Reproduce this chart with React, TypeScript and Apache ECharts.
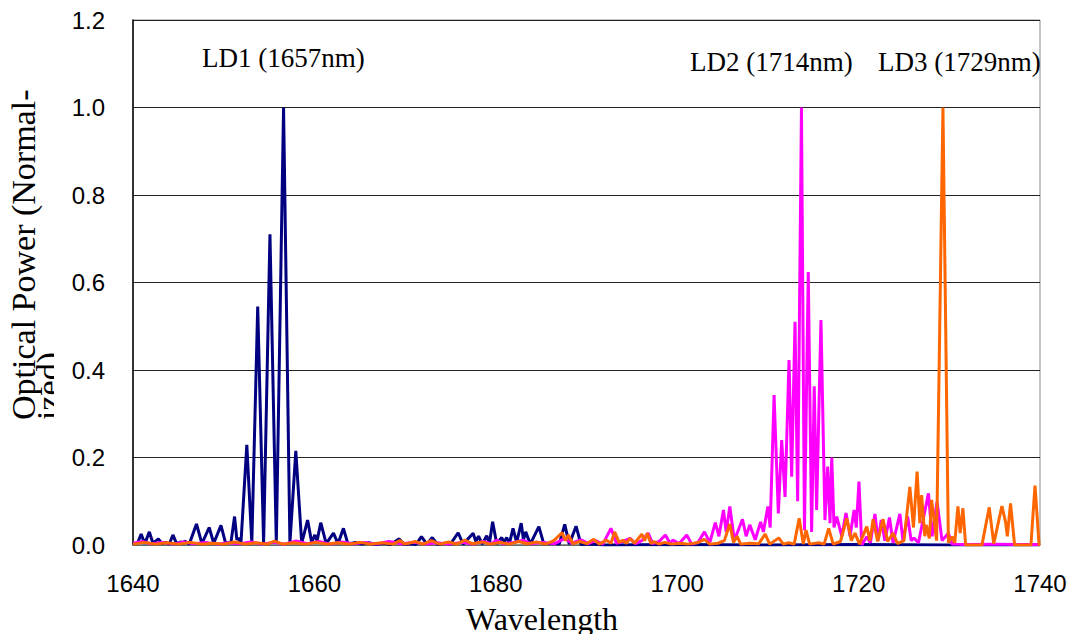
import React, { useEffect, useRef } from "react";
import * as echarts from "echarts";

const xTicks = [1640, 1660, 1680, 1700, 1720, 1740];
const yTicks = [0, 0.2, 0.4, 0.6, 0.8, 1.0, 1.2];

const peakLabels = ["LD1 (1657nm)", "LD2 (1714nm)", "LD3 (1729nm)"];
const seriesNames = ["LD1", "LD2", "LD3"];

const ld1: [number, number][] = [
  [1640.0, 0.003], [1640.5, 0.004], [1640.9, 0.025], [1641.3, 0.003], [1641.8, 0.03],
  [1642.2, 0.004], [1642.8, 0.014], [1643.2, 0.003], [1643.6, 0.006], [1644.0, 0.002],
  [1644.4, 0.023], [1644.8, 0.003], [1645.3, 0.007], [1645.5, 0.003], [1645.7, 0.009],
  [1646.2, 0.002], [1647.0, 0.048], [1647.6, 0.003], [1648.4, 0.04], [1648.9, 0.004],
  [1649.7, 0.045], [1650.2, 0.005], [1650.8, 0.006], [1651.2, 0.065], [1651.45, 0.012],
  [1651.6, 0.016], [1651.9, 0.004], [1652.55, 0.229], [1653.1, 0.004], [1653.75, 0.545],
  [1654.4, 0.004], [1655.1, 0.71], [1655.8, 0.004], [1656.6, 1.0], [1657.3, 0.004],
  [1657.95, 0.215], [1658.6, 0.004], [1659.25, 0.057], [1659.7, 0.006], [1660.05, 0.023],
  [1660.3, 0.01], [1660.7, 0.051], [1661.3, 0.003], [1662.1, 0.027], [1662.6, 0.003],
  [1663.2, 0.038], [1663.7, 0.002], [1664.5, 0.006], [1665.2, 0.002], [1666.0, 0.005],
  [1666.8, 0.001], [1667.6, 0.004], [1668.4, 0.001], [1669.35, 0.014], [1669.9, 0.001],
  [1670.6, 0.003], [1671.2, 0.001], [1671.8, 0.019], [1672.4, 0.002], [1673.0, 0.017],
  [1673.6, 0.001], [1674.3, 0.004], [1675.0, 0.002], [1675.85, 0.028], [1676.4, 0.002],
  [1677.5, 0.027], [1677.8, 0.008], [1678.1, 0.02], [1678.5, 0.002], [1679.0, 0.021],
  [1679.3, 0.004], [1679.65, 0.053], [1680.1, 0.003], [1680.65, 0.017], [1680.9, 0.006],
  [1681.2, 0.017], [1681.5, 0.003], [1681.9, 0.038], [1682.3, 0.006], [1682.8, 0.05],
  [1683.05, 0.012], [1683.3, 0.03], [1683.8, 0.002], [1684.75, 0.042], [1685.3, 0.002],
  [1686.2, 0.004], [1687.0, 0.002], [1687.6, 0.047], [1688.1, 0.002], [1688.85, 0.043],
  [1689.4, 0.001], [1690.5, 0.002], [1692.0, 0.0], [1700.0, 0.001], [1710.0, 0.0],
  [1720.0, 0.001], [1730.0, 0.0], [1740.0, 0.0],
];

const ld2: [number, number][] = [
  [1640.0, 0.004], [1641.0, 0.008], [1642.0, 0.003], [1643.2, 0.006], [1644.5, 0.002],
  [1645.6, 0.007], [1646.8, 0.003], [1648.0, 0.006], [1649.3, 0.002], [1650.5, 0.005],
  [1651.8, 0.003], [1653.0, 0.007], [1654.2, 0.002], [1655.5, 0.006], [1656.7, 0.002],
  [1658.0, 0.009], [1659.2, 0.003], [1660.5, 0.008], [1661.7, 0.002], [1663.0, 0.007],
  [1664.3, 0.003], [1665.6, 0.006], [1666.8, 0.002], [1668.2, 0.008], [1669.6, 0.003],
  [1671.0, 0.006], [1672.3, 0.002], [1673.5, 0.005], [1674.8, 0.002], [1676.3, 0.006],
  [1677.5, 0.002], [1678.6, 0.008], [1679.5, 0.003], [1680.1, 0.011], [1680.8, 0.003],
  [1682.0, 0.006], [1683.0, 0.011], [1683.8, 0.003], [1685.2, 0.006], [1686.5, 0.003],
  [1687.6, 0.015], [1688.4, 0.004], [1689.4, 0.012], [1690.2, 0.003], [1691.0, 0.01],
  [1691.8, 0.002], [1692.7, 0.038], [1693.3, 0.004], [1694.0, 0.008], [1694.8, 0.015],
  [1695.4, 0.003], [1696.1, 0.01], [1696.8, 0.027], [1697.3, 0.003], [1698.0, 0.008],
  [1698.7, 0.023], [1699.2, 0.004], [1699.5, 0.011], [1700.2, 0.003], [1701.05, 0.023],
  [1701.6, 0.002], [1702.3, 0.006], [1703.0, 0.03], [1703.6, 0.006], [1704.2, 0.051],
  [1704.6, 0.02], [1705.1, 0.08], [1705.4, 0.03], [1705.8, 0.088], [1706.3, 0.011],
  [1707.2, 0.059], [1707.6, 0.02], [1708.0, 0.046], [1708.6, 0.012], [1709.2, 0.053],
  [1709.5, 0.03], [1710.0, 0.088], [1710.25, 0.04], [1710.68, 0.343], [1711.15, 0.072],
  [1711.52, 0.24], [1711.89, 0.11], [1712.33, 0.423], [1712.62, 0.156], [1712.99, 0.51],
  [1713.28, 0.1], [1713.7, 1.0], [1714.03, 0.034], [1714.45, 0.624], [1714.82, 0.03],
  [1715.11, 0.363], [1715.37, 0.08], [1715.85, 0.514], [1716.29, 0.057], [1716.59, 0.179],
  [1716.85, 0.05], [1717.04, 0.2], [1717.29, 0.04], [1717.59, 0.065], [1718.14, 0.02],
  [1718.61, 0.073], [1719.06, 0.02], [1719.5, 0.08], [1719.75, 0.04], [1720.04, 0.145],
  [1720.35, 0.0], [1720.9, 0.019], [1721.3, 0.005], [1721.8, 0.071], [1722.15, 0.01],
  [1722.5, 0.057], [1722.9, 0.01], [1723.4, 0.063], [1723.8, 0.005], [1724.55, 0.071],
  [1724.9, 0.008], [1725.4, 0.065], [1725.8, 0.01], [1726.1, 0.016], [1726.6, 0.005],
  [1727.7, 0.118], [1728.1, 0.02], [1728.65, 0.099], [1729.2, 0.01], [1729.9, 0.027],
  [1730.3, 0.002], [1732.0, 0.001], [1735.0, 0.002], [1738.0, 0.001], [1740.0, 0.001],
];

const ld3: [number, number][] = [
  [1640.0, 0.002], [1641.2, 0.006], [1642.5, 0.002], [1643.7, 0.005], [1645.0, 0.002],
  [1646.3, 0.006], [1647.6, 0.002], [1648.8, 0.004], [1650.0, 0.002], [1651.2, 0.007],
  [1652.4, 0.002], [1653.6, 0.005], [1654.8, 0.002], [1655.6, 0.009], [1656.5, 0.002],
  [1657.7, 0.005], [1659.0, 0.002], [1660.2, 0.006], [1661.4, 0.002], [1662.6, 0.005],
  [1663.8, 0.002], [1665.0, 0.006], [1666.2, 0.002], [1667.4, 0.005], [1668.7, 0.002],
  [1669.4, 0.01], [1670.0, 0.002], [1671.1, 0.008], [1672.0, 0.002], [1672.9, 0.01],
  [1673.8, 0.002], [1674.8, 0.007], [1675.7, 0.002], [1676.6, 0.011], [1677.4, 0.003],
  [1678.5, 0.007], [1679.3, 0.002], [1680.5, 0.006], [1681.5, 0.002], [1682.5, 0.008],
  [1683.5, 0.003], [1684.5, 0.007], [1685.5, 0.002], [1686.4, 0.01], [1687.3, 0.028],
  [1687.7, 0.01], [1688.0, 0.023], [1688.5, 0.003], [1689.3, 0.008], [1690.0, 0.003],
  [1690.8, 0.013], [1691.4, 0.002], [1692.2, 0.011], [1692.7, 0.004], [1693.1, 0.03],
  [1693.6, 0.006], [1694.0, 0.011], [1694.4, 0.004], [1694.8, 0.015], [1695.3, 0.004],
  [1696.1, 0.025], [1696.4, 0.01], [1696.7, 0.027], [1697.1, 0.003], [1697.4, 0.008],
  [1698.0, 0.002], [1698.6, 0.006], [1699.4, 0.002], [1700.3, 0.004], [1701.2, 0.002],
  [1702.2, 0.005], [1703.0, 0.013], [1703.6, 0.002], [1704.5, 0.004], [1705.2, 0.01],
  [1705.8, 0.048], [1706.2, 0.006], [1706.6, 0.02], [1707.0, 0.002], [1708.0, 0.004],
  [1709.0, 0.003], [1709.7, 0.025], [1710.2, 0.002], [1711.2, 0.016], [1711.7, 0.002],
  [1712.3, 0.005], [1712.9, 0.002], [1713.45, 0.061], [1713.9, 0.002], [1714.2, 0.034],
  [1714.6, 0.002], [1715.6, 0.005], [1716.2, 0.002], [1716.7, 0.038], [1717.2, 0.002],
  [1718.0, 0.008], [1718.7, 0.061], [1719.2, 0.01], [1719.6, 0.027], [1720.1, 0.002],
  [1720.9, 0.042], [1721.25, 0.01], [1721.6, 0.059], [1722.1, 0.008], [1722.7, 0.059],
  [1723.2, 0.008], [1723.8, 0.027], [1724.3, 0.003], [1725.0, 0.01], [1725.65, 0.133],
  [1726.05, 0.04], [1726.45, 0.168], [1726.75, 0.05], [1726.95, 0.114], [1727.3, 0.02],
  [1727.45, 0.046], [1727.8, 0.015], [1728.05, 0.103], [1728.6, 0.01], [1729.3, 1.0],
  [1729.9, 0.005], [1730.3, 0.019], [1730.6, 0.005], [1730.95, 0.088], [1731.2, 0.027],
  [1731.5, 0.084], [1731.8, 0.0], [1733.6, 0.0], [1734.4, 0.086], [1734.9, 0.003],
  [1735.8, 0.089], [1736.2, 0.053], [1736.4, 0.02], [1736.75, 0.095], [1737.2, 0.0],
  [1739.0, 0.0], [1739.45, 0.136], [1739.9, 0.0], [1740.0, 0.0],
];

const colors = ["#000080", "#FF00FF", "#FF6600"];

export default function App() {
  const ref = useRef<HTMLDivElement>(null);
  useEffect(() => {
    if (!ref.current) return;
    const chart = echarts.init(ref.current, undefined, { renderer: "svg" });
    const serif = "'Liberation Serif', 'Times New Roman', serif";
    const sans = "'Liberation Sans', Arial, sans-serif";
    const dataSets = [ld1, ld2, ld3];
    chart.setOption({
      animation: false,
      backgroundColor: "#ffffff",
      grid: {
        left: 133,
        right: 35,
        top: 20,
        bottom: 97,
        show: true,
        borderColor: "#8a8a8a",
        borderWidth: 1,
        backgroundColor: "transparent",
      },
      xAxis: {
        type: "value",
        min: xTicks[0],
        max: xTicks[xTicks.length - 1],
        interval: 20,
        axisLine: { show: true, lineStyle: { color: "#808080", width: 1.5 } },
        axisTick: { show: false },
        splitLine: { show: false },
        axisLabel: {
          margin: 26,
          fontSize: 24,
          fontFamily: sans,
          color: "#000",
          formatter: (v: number) => String(v),
        },
      },
      yAxis: {
        type: "value",
        min: yTicks[0],
        max: yTicks[yTicks.length - 1],
        interval: 0.2,
        axisLine: { show: true, lineStyle: { color: "#000", width: 1.5 } },
        axisTick: { show: false },
        splitLine: { show: true, lineStyle: { color: "#222", width: 1 } },
        axisLabel: {
          margin: 28,
          fontSize: 24,
          fontFamily: sans,
          color: "#000",
          formatter: (v: number) => v.toFixed(1),
        },
      },
      series: dataSets.map((d, i) => ({
        name: seriesNames[i],
        type: "line",
        data: d,
        showSymbol: false,
        symbol: "none",
        clip: true,
        lineStyle: { color: colors[i], width: 3 },
        z: 2 + i,
      })),
      graphic: [
        {
          type: "text",
          left: 202,
          top: 44,
          style: { text: peakLabels[0], font: `27px ${serif}`, fill: "#000" },
        },
        {
          type: "text",
          left: 690,
          top: 48,
          style: { text: peakLabels[1], font: `27px ${serif}`, fill: "#000" },
        },
        {
          type: "text",
          left: 878,
          top: 48,
          style: { text: peakLabels[2], font: `27px ${serif}`, fill: "#000" },
        },
        {
          type: "text",
          left: 466,
          top: 603,
          style: { text: "Wavelength", font: `32px ${serif}`, fill: "#000" },
        },
        {
          type: "text",
          x: 6,
          y: 420,
          rotation: Math.PI / 2,
          style: {
            text: "Optical Power (Normal-",
            font: `34px ${serif}`,
            align: "left",
            verticalAlign: "top",
            fill: "#000",
          },
        },
        {
          type: "text",
          x: 31,
          y: 420,
          rotation: Math.PI / 2,
          style: {
            text: "ized)",
            font: `34px ${serif}`,
            align: "left",
            verticalAlign: "top",
            fill: "#000",
          },
        },
        {
          type: "rect",
          shape: { x: 54, y: 330, width: 14, height: 100 },
          style: { fill: "#ffffff" },
          z: 100,
        },
      ],
    });
    return () => chart.dispose();
  }, []);
  return <div ref={ref} style={{ width: 1075, height: 642, margin: -8 }} />;
}
